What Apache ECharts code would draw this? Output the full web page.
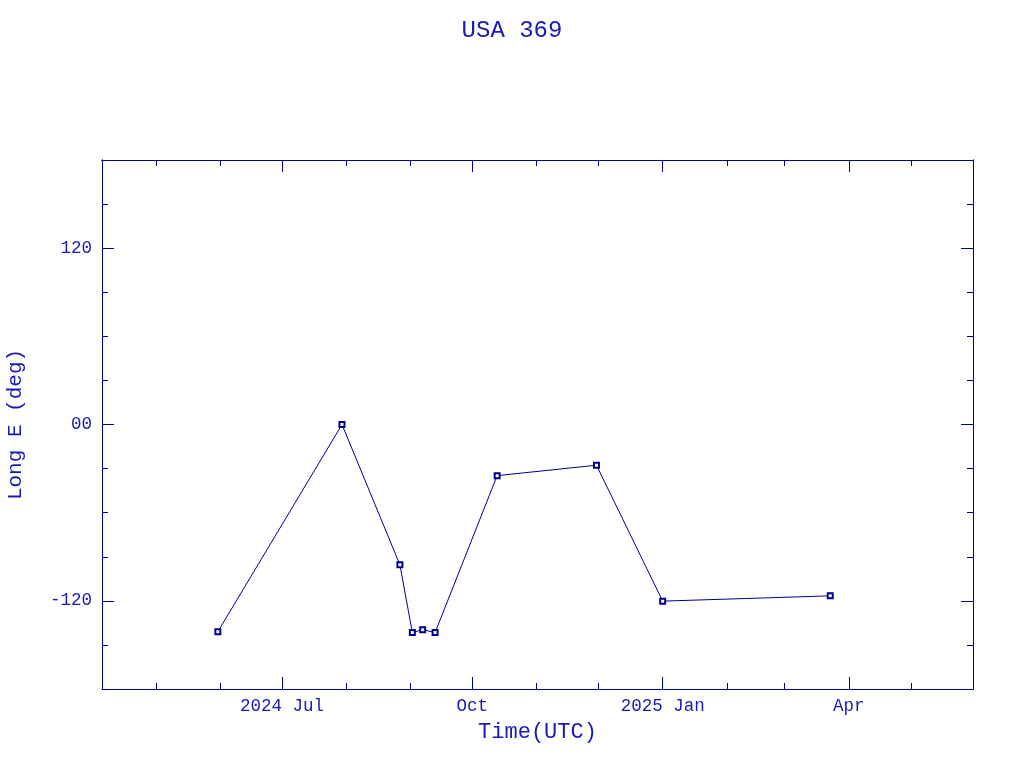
<!DOCTYPE html>
<html><head><meta charset="utf-8">
<script src="https://cdn.jsdelivr.net/npm/echarts@6/dist/echarts.min.js"></script>
<style>html,body{margin:0;padding:0;background:#fff}#c{width:1024px;height:768px}</style>
</head><body><div id="c"></div>
<script>
const title = 'USA 369';
const dates = ['2024-05-31','2024-07-30','2024-08-27','2024-09-02','2024-09-07','2024-09-13','2024-10-13','2024-11-30','2025-01-01','2025-03-23'];
const longitudes = [-141, 0, -95.5, -141.6, -139.6, -141.6, -34.8, -27.7, -120.2, -116.6];
const xMin = '2024-04-05', xMax = '2025-05-31';
const majorTickDates = ['2024-07-01','2024-10-01','2025-01-01','2025-04-01'];
const majorTickLabels = ['2024 Jul','Oct','2025 Jan','Apr'];
const minorTickDates = ['2024-05-01','2024-06-01','2024-07-01','2024-08-01','2024-09-01','2024-10-01','2024-11-01','2024-12-01','2025-01-01','2025-02-01','2025-03-01','2025-04-01','2025-05-01'];
const yMin = -180, yMax = 180, yMinorInterval = 30;
const yMajorTicks = [-120, 0, 120];
const yTickLabels = ['-120', '00', '120'];

const ts = d => new Date(d + 'T00:00:00Z').getTime();
const lineC = '#00008f', textC = '#1a1ab4';
const font = 'Liberation Mono';
const majorTs = majorTickDates.map(ts), minorTs = minorTickDates.map(ts);

function xAx(pos, major, labels){
  return {
    type:'value', position:pos, min:ts(xMin), max:ts(xMax), scale:true,
    axisLine:{show:true, onZero:false, lineStyle:{color:lineC, width:1}},
    axisTick:{show:true, inside:true, length: major?12:6, customValues: major?majorTs:minorTs, lineStyle:{color:lineC}},
    axisLabel:{show:labels, customValues: majorTs, color:textC, fontFamily:font, fontSize:17.5, margin:8,
      formatter: v => { const i = majorTs.indexOf(v); return i>=0 ? majorTickLabels[i] : ''; }},
    splitLine:{show:false},
    name: labels ? 'Time(UTC)' : '', nameLocation:'middle', nameGap:32,
    nameTextStyle:{color:textC, fontFamily:font, fontSize:22}
  };
}
function yAx(pos, major, labels){
  const t = {show:true, inside:true, length: major?12:6, lineStyle:{color:lineC}};
  if (major) t.customValues = yMajorTicks;
  return {
    type:'value', position:pos, min:yMin, max:yMax, interval:yMinorInterval,
    axisLine:{show:true, onZero:false, lineStyle:{color:lineC, width:1}},
    axisTick:t,
    axisLabel:{show:labels, customValues: yMajorTicks, color:textC, fontFamily:font, fontSize:17.5, margin:10,
      formatter: v => { const i = yMajorTicks.indexOf(v); return i>=0 ? yTickLabels[i] : ''; }},
    splitLine:{show:false},
    name: labels ? 'Long E (deg)' : '', nameLocation:'middle', nameGap:76, nameRotate:90,
    nameTextStyle:{color:textC, fontFamily:font, fontSize:21}
  };
}

const chart = echarts.init(document.getElementById('c'), null, {renderer:'canvas'});
chart.setOption({
  animation:false,
  backgroundColor:'#fff',
  title:{text:title, left:'center', top:14, textStyle:{color:textC, fontFamily:font, fontSize:24, fontWeight:'normal'}},
  grid:{left:102, right:51, top:160, bottom:79, containLabel:false, outerBoundsMode:'none'},
  xAxis:[xAx('bottom',true,true), xAx('bottom',false,false), xAx('top',true,false), xAx('top',false,false)],
  yAxis:[yAx('left',true,true), yAx('left',false,false), yAx('right',true,false), yAx('right',false,false)],
  series:[{
    type:'line', xAxisIndex:0, yAxisIndex:0,
    data: dates.map((d,i)=>[ts(d), longitudes[i]]),
    symbol:'emptyRect', symbolSize:5, showAllSymbol:true,
    lineStyle:{color:lineC, width:1},
    itemStyle:{color:lineC, borderColor:lineC, borderWidth:1}
  }]
});
</script></body></html>
